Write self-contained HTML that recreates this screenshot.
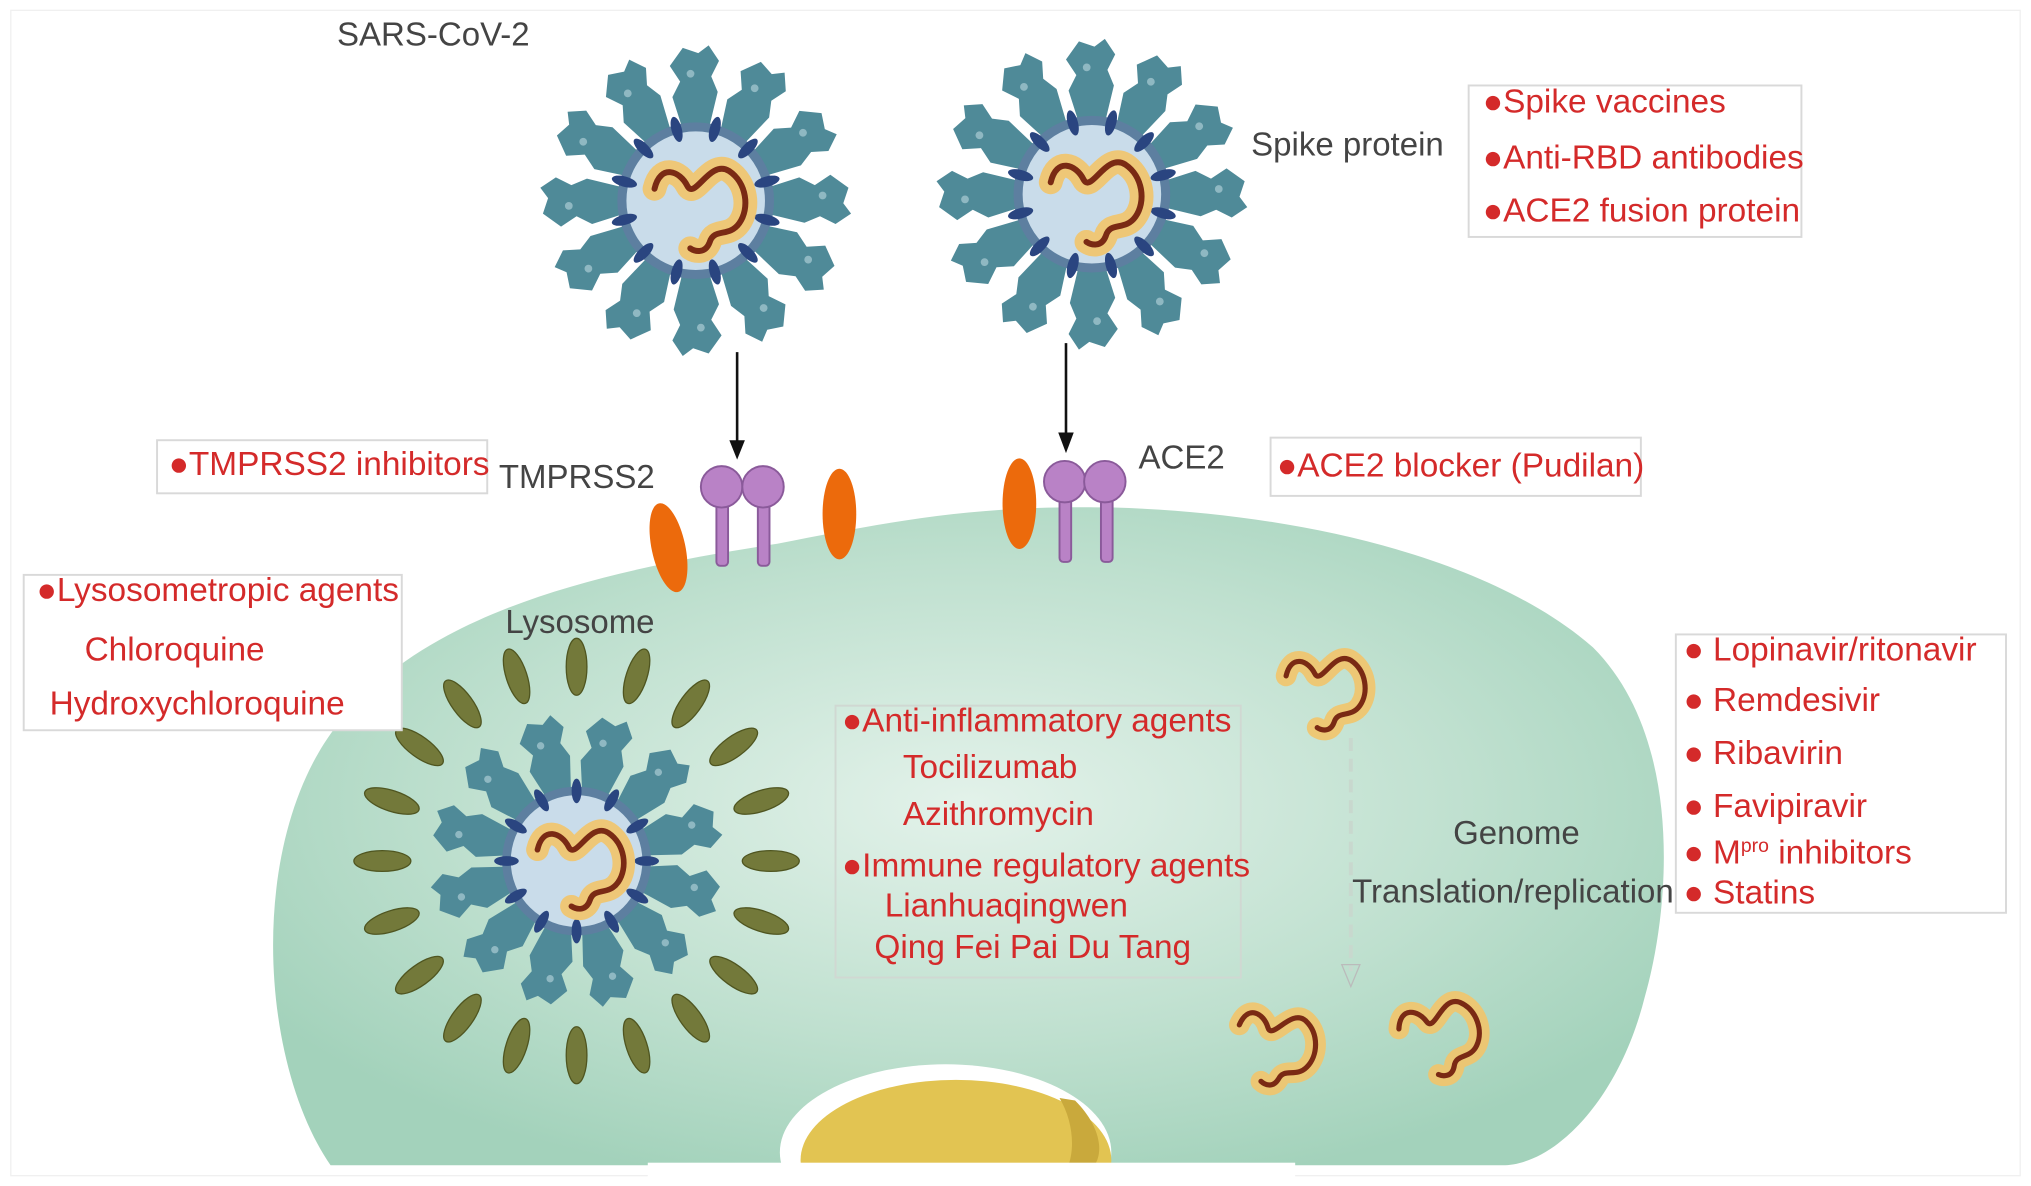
<!DOCTYPE html>
<html><head><meta charset="utf-8"><style>
html,body{margin:0;padding:0;background:#fff;}
svg{display:block;}
text{font-family:"Liberation Sans",Arial,sans-serif;}
.r{fill:#d42a2a;font-size:25.8px;}
.g{fill:#444;font-size:25.5px;}
.box{fill:#fff;stroke:#d9d9d9;stroke-width:1.5;}
</style></head><body>
<svg id="s" width="2031" height="1186" viewBox="0 0 1568 916" xmlns="http://www.w3.org/2000/svg">
<defs>
<radialGradient id="cell" cx="0.5" cy="0.45" r="0.6">
<stop offset="0" stop-color="#e3f2ea"/><stop offset="0.6" stop-color="#bfe0cf"/><stop offset="1" stop-color="#a3d2bb"/>
</radialGradient>
</defs>
<rect x="8" y="8" width="1552" height="900" fill="#fff" stroke="#f0f0f0"/>
<path d="M255,900 C200,820 190,650 260,560 C330,470 470,440 600,420 C700,400 760,390 860,392 C1000,396 1150,430 1230,500 C1300,570 1290,700 1270,770 C1250,850 1200,900 1160,900 Z" fill="url(#cell)"/>
<ellipse cx="730" cy="890" rx="128" ry="68" fill="#fff"/>
<ellipse cx="738" cy="896" rx="120" ry="62" fill="#e2c452"/>
<path d="M830,850 C850,870 852,890 845,900 L825,900 C830,885 828,865 818,848 Z" fill="#c9a93c"/>
<rect x="500" y="898" width="500" height="20" fill="#fff"/>
<g id="viruses"></g>
<g id="lyso"></g>
<line x1="569" y1="272" x2="569" y2="342" stroke="#111" stroke-width="2"/>
<path d="M563,340 L575,340 L569,355 Z" fill="#111"/>
<line x1="823" y1="265" x2="823" y2="336" stroke="#111" stroke-width="2"/>
<path d="M817,334 L829,334 L823,350 Z" fill="#111"/>
<g fill="#b982c6" stroke="#8a5a9a" stroke-width="1.5">
<rect x="553" y="385" width="9" height="52" rx="3"/><rect x="585" y="385" width="9" height="52" rx="3"/>
<circle cx="557" cy="376" r="16"/><circle cx="589" cy="376" r="16"/>
<rect x="818" y="382" width="9" height="52" rx="3"/><rect x="850" y="382" width="9" height="52" rx="3"/>
<circle cx="822" cy="372" r="16"/><circle cx="853" cy="372" r="16"/>
</g>
<g fill="#ec6a0c">
<ellipse cx="516" cy="423" rx="13" ry="35" transform="rotate(-12 516 423)"/>
<ellipse cx="648" cy="397" rx="13" ry="35"/>
<ellipse cx="787" cy="389" rx="13" ry="35"/>
</g>
<line x1="1043" y1="570" x2="1043" y2="750" stroke="#c8d8ce" stroke-width="3" stroke-dasharray="10,6"/>
<path d="M1036,745 L1050,745 L1043,762 Z" fill="none" stroke="#bbb"/>
<g id="rnas"></g>
<text x="260" y="35" class="g">SARS-CoV-2</text>
<text x="966" y="120" class="g">Spike protein</text>
<text x="385" y="377" class="g">TMPRSS2</text>
<text x="879" y="362" class="g">ACE2</text>
<text x="390" y="489" class="g">Lysosome</text>
<text x="1122" y="652" class="g">Genome</text>
<text x="1044" y="697" class="g">Translation/replication</text>
<rect x="1134" y="66" width="257" height="117" class="box"/>
<text x="1145" y="87" class="r">●Spike vaccines</text>
<text x="1145" y="130" class="r">●Anti-RBD antibodies</text>
<text x="1145" y="171" class="r">●ACE2 fusion protein</text>
<rect x="121" y="340" width="255" height="41" class="box"/>
<text x="130" y="367" class="r">●TMPRSS2 inhibitors</text>
<rect x="981" y="338" width="286" height="45" class="box"/>
<text x="986" y="368" class="r">●ACE2 blocker (Pudilan)</text>
<rect x="18" y="444" width="292" height="120" class="box"/>
<text x="28" y="464" class="r">●Lysosometropic agents</text>
<text x="65" y="510" class="r">Chloroquine</text>
<text x="38" y="552" class="r">Hydroxychloroquine</text>
<rect x="645" y="545" width="313" height="210" style="fill:none;stroke:#d0d8d2;stroke-width:1.5"/>
<text x="650" y="565" class="r">●Anti-inflammatory agents</text>
<text x="697" y="601" class="r">Tocilizumab</text>
<text x="697" y="637" class="r">Azithromycin</text>
<text x="650" y="677" class="r">●Immune regulatory agents</text>
<text x="683" y="708" class="r">Lianhuaqingwen</text>
<text x="675" y="740" class="r">Qing Fei Pai Du Tang</text>
<rect x="1294" y="490" width="255" height="215" class="box"/>
<text x="1300" y="510" class="r">●  Lopinavir/ritonavir</text>
<text x="1300" y="549" class="r">●  Remdesivir</text>
<text x="1300" y="590" class="r">●  Ribavirin</text>
<text x="1300" y="631" class="r">●  Favipiravir</text>
<text x="1300" y="667" class="r">●  M<tspan font-size="15" dy="-9">pro</tspan><tspan dy="9"> inhibitors</tspan></text>
<text x="1300" y="698" class="r">●  Statins</text>
</svg>
<script>
var NS="http://www.w3.org/2000/svg";
function el(p,t,a){var e=document.createElementNS(NS,t);for(var k in a)e.setAttribute(k,a[k]);p.appendChild(e);return e;}
function rna(g,x,y,s,rot){
 var gg=el(g,"g",{transform:"translate("+x+","+y+") rotate("+(rot||0)+") scale("+s+")"});
 var d="M-32,-8 C-28,-25 -15,-20 -10,-10 C-5,0 5,-28 18,-20 C30,-12 32,5 25,15 C18,25 8,18 5,28 C2,36 -5,34 -8,32";
 el(gg,"path",{d:d,fill:"none",stroke:"#f2c46a",'stroke-width':16,'stroke-linecap':"round",opacity:0.9});
 el(gg,"path",{d:d,fill:"none",stroke:"#7a2a14",'stroke-width':4,'stroke-linecap':"round"});
}
function virus(g,cx,cy,sc,off){
 var gg=el(g,"g",{transform:"translate("+cx+","+cy+") scale("+sc+")"});
 for(var i=0;i<12;i++){
  var a=i*30+off;
  var s=el(gg,"g",{transform:"rotate("+a+")"});
  el(s,"path",{d:"M-10,-55 L-18,-80 L-12,-92 L-20,-104 L-10,-118 L2,-114 L10,-120 L18,-108 L12,-96 L17,-84 L10,-55 Z",fill:"#4f8a98"});
  el(s,"circle",{cx:-4,cy:-98,r:3,fill:"#8fb8c2"});
 }
 el(gg,"circle",{r:57,fill:"#c9dcea",stroke:"#5d7fa0","stroke-width":7});
 for(var i=0;i<12;i++){
  var a=i*30+off+15;
  el(gg,"ellipse",{cx:0,cy:-57,rx:4,ry:10,fill:"#2a4580",transform:"rotate("+a+")"});
 }
 rna(gg,5,0,1.15,0);
}
var v=document.getElementById("viruses");
virus(v,537,155,1,0);
virus(v,843,150,1,0);
var l=document.getElementById("lyso");
for(var i=0;i<20;i++){
 var a=i*18;var r=150;
 var rad=(a-90)*Math.PI/180;
 var x=445+r*Math.cos(rad), y=665+r*Math.sin(rad);
 el(l,"ellipse",{cx:x,cy:y,rx:8,ry:22,fill:"#73793a",stroke:"#4f5520","stroke-width":1,transform:"rotate("+a+" "+x+" "+y+")"});
}
virus(l,445,665,0.95,15);
var rg=document.getElementById("rnas");
rna(rg,1025,530,1.0,0);
rna(rg,987,805,1.0,10);
rna(rg,1113,797,1.0,-10);
</script>
</body></html>
